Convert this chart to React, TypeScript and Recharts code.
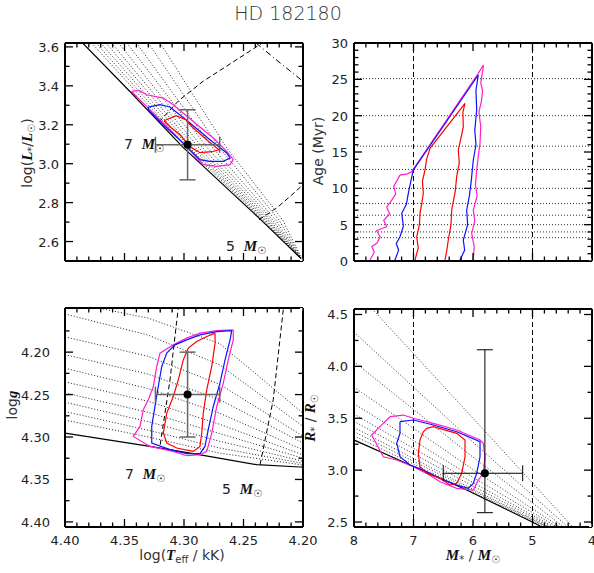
import React from 'react'
import { ComposedChart, Line, Scatter, XAxis, YAxis, ReferenceLine, ErrorBar } from 'recharts'

type Pt = [number, number]

// ---------- tick values ----------
const teffMajor = [4.4, 4.35, 4.3, 4.25, 4.2]
const teffMinor = [4.39, 4.38, 4.37, 4.36, 4.34, 4.33, 4.32, 4.31, 4.29, 4.28, 4.27, 4.26, 4.24, 4.23, 4.22, 4.21]
const lumMajor = [2.6, 2.8, 3.0, 3.2, 3.4, 3.6]
const lumMinor = [2.7, 2.9, 3.1, 3.3, 3.5]
const ageMajor = [0, 5, 10, 15, 20, 25, 30]
const ageMinor = [1, 2, 3, 4, 6, 7, 8, 9, 11, 12, 13, 14, 16, 17, 18, 19, 21, 22, 23, 24, 26, 27, 28, 29]
const massMajor = [8, 7, 6, 5, 4]
const massMinor = [7.8, 7.6, 7.4, 7.2, 6.8, 6.6, 6.4, 6.2, 5.8, 5.6, 5.4, 5.2, 4.8, 4.6, 4.4, 4.2]
const loggMajor = [4.2, 4.25, 4.3, 4.35, 4.4]
const loggMinor = [4.175, 4.225, 4.275, 4.325, 4.375]
const radMajor = [2.5, 3.0, 3.5, 4.0, 4.5]
const radMinor = [2.75, 3.25, 3.75, 4.25]

// isochrone ages (Myr) and track masses
const isoAges = [25.1, 20.0, 15.8, 12.6, 10.0, 7.9, 6.3, 5.0, 4.0, 3.2]
const trackMasses = [7, 5]

// ---------- HRD: log Teff vs log L ----------
const hrdZams: Pt[] = [[4.386, 3.625], [4.344, 3.362], [4.301, 3.085], [4.236, 2.715], [4.199, 2.497]]
const hrdIso: Pt[][] = [
  [[4.32, 3.62], [4.264, 3.08], [4.217, 2.71], [4.2, 2.5]],
  [[4.33, 3.62], [4.2699, 3.08], [4.2201, 2.71], [4.2, 2.5]],
  [[4.34, 3.62], [4.2756, 3.08], [4.223, 2.71], [4.2, 2.5]],
  [[4.348, 3.62], [4.2801, 3.08], [4.2254, 2.71], [4.2, 2.5]],
  [[4.355, 3.62], [4.2841, 3.08], [4.2274, 2.71], [4.2, 2.5]],
  [[4.3608, 3.62], [4.2874, 3.08], [4.2291, 2.71], [4.2, 2.5]],
  [[4.3655, 3.62], [4.2902, 3.08], [4.2305, 2.71], [4.2, 2.5]],
  [[4.37, 3.62], [4.2927, 3.08], [4.2318, 2.71], [4.2, 2.5]],
  [[4.374, 3.62], [4.295, 3.08], [4.233, 2.71], [4.2, 2.5]],
  [[4.3776, 3.62], [4.297, 3.08], [4.234, 2.71], [4.2, 2.5]],
]
const hrdTrack7: Pt[] = [[4.321, 3.214], [4.3048, 3.322], [4.2838, 3.424], [4.2642, 3.501], [4.2362, 3.612], [4.232, 3.63]]
const hrdTrack5: Pt[] = [[4.237, 2.712], [4.2218, 2.774], [4.211, 2.831], [4.1985, 2.9]]
const hrdDashDot: Pt[] = [[4.2395, 3.62], [4.2193, 3.518], [4.199, 3.418]]
const hrdSigma3: Pt[] = [
  [4.344, 3.371], [4.338, 3.376], [4.3313, 3.354], [4.3174, 3.337], [4.309, 3.303], [4.2922, 3.217],
  [4.2754, 3.132], [4.2641, 3.063], [4.2586, 3.021], [4.2613, 2.995], [4.2725, 2.986], [4.2838, 2.995],
  [4.2893, 3.029], [4.3006, 3.106], [4.3202, 3.226], [4.337, 3.328], [4.344, 3.371],
]
const hrdSigma2: Pt[] = [
  [4.33, 3.291], [4.3202, 3.303], [4.3118, 3.291], [4.295, 3.209], [4.2782, 3.123], [4.2641, 3.055],
  [4.2613, 3.029], [4.267, 3.012], [4.2782, 3.012], [4.2866, 3.021], [4.2978, 3.089], [4.3174, 3.2],
  [4.33, 3.277], [4.33, 3.291],
]
const hrdSigma1: Pt[] = [
  [4.3168, 3.2205], [4.3067, 3.2462], [4.2984, 3.2256], [4.2933, 3.1897], [4.279, 3.1128], [4.2706, 3.0718],
  [4.2765, 3.0615], [4.2866, 3.0564], [4.295, 3.0872], [4.3034, 3.1487], [4.3118, 3.1897], [4.3168, 3.2205],
]
const starHrd = { x: 4.297, y: 3.097, ex: 0.027, ey: 0.18 }

// ---------- mass vs age ----------
const ageSigma3: Pt[] = [
  [7.76, -0.3], [7.731, 0.14], [7.66, 1.2], [7.7, 2.0], [7.618, 2.44], [7.56, 3.3], [7.62, 4.2], [7.45, 4.72],
  [7.5, 5.6], [7.4, 6.5], [7.45, 7.4], [7.366, 8.39], [7.3, 9.2], [7.33, 10.3], [7.227, 11.83], [7.1, 12.0],
  [7.03, 12.29], [5.911, 25.83], [5.827, 26.97], [5.83, 26.5], [5.87, 24.5], [5.84, 23.5], [5.855, 22.15],
  [5.9, 20.5], [5.87, 18.5], [5.882, 16.2], [5.91, 14.5], [5.938, 12.52], [5.96, 10.5], [5.93, 9.0],
  [5.995, 7.02], [5.97, 5.5], [6.022, 3.81], [5.98, 2.0], [5.995, 0.14], [5.99, -0.3], [7.76, -0.3],
]
const ageSigma2: Pt[] = [
  [7.32, -0.3], [7.311, 0.14], [7.25, 1.5], [7.29, 2.4], [7.227, 3.34], [7.17, 4.8], [7.198, 6.56], [7.12, 7.8],
  [7.087, 9.32], [7.05, 10.8], [7.003, 12.52], [5.911, 25.6], [5.95, 23.5], [5.938, 20.78], [5.97, 18.0],
  [5.95, 16.0], [5.995, 13.9], [6.03, 11.0], [6.06, 9.0], [6.106, 7.02], [6.09, 5.0], [6.163, 2.89],
  [6.14, 1.5], [6.218, 0.14], [6.22, -0.3], [7.32, -0.3],
]
const ageSigma1: Pt[] = [
  [6.98, -0.3], [6.975, 0.14], [6.92, 1.8], [6.946, 3.34], [6.9, 5.0], [6.891, 6.56], [6.86, 8.0], [6.835, 9.32],
  [6.85, 11.0], [6.807, 12.52], [6.78, 14.0], [6.723, 15.5], [6.134, 21.7], [6.17, 20.5], [6.163, 18.48],
  [6.2, 17.0], [6.247, 15.27], [6.23, 13.5], [6.274, 11.6], [6.3, 9.5], [6.358, 7.02], [6.37, 5.0],
  [6.415, 2.89], [6.44, 1.5], [6.47, 0.14], [6.47, -0.3], [6.98, -0.3],
]

// ---------- Kiel: log Teff vs log g ----------
const kielZams: Pt[] = [[4.405, 4.294], [4.4, 4.2953], [4.3286, 4.3111], [4.2922, 4.3196], [4.2389, 4.3326], [4.2025, 4.3353], [4.195, 4.336]]
const kielIso: Pt[][] = [
  [[4.4, 4.14], [4.33, 4.16], [4.27, 4.19], [4.2, 4.272]],
  [[4.4, 4.155], [4.33, 4.18], [4.27, 4.215], [4.2, 4.2875]],
  [[4.4, 4.182], [4.33, 4.205], [4.27, 4.238], [4.2, 4.299]],
  [[4.4, 4.203], [4.33, 4.226], [4.27, 4.256], [4.2, 4.307]],
  [[4.4, 4.219], [4.33, 4.243], [4.27, 4.272], [4.2, 4.315]],
  [[4.4, 4.235], [4.33, 4.258], [4.27, 4.285], [4.2, 4.321]],
  [[4.4, 4.248], [4.33, 4.271], [4.27, 4.296], [4.2, 4.325]],
  [[4.4, 4.259], [4.33, 4.282], [4.27, 4.305], [4.2, 4.3285]],
  [[4.4, 4.27], [4.33, 4.292], [4.27, 4.313], [4.2, 4.331]],
  [[4.4, 4.28], [4.33, 4.3], [4.27, 4.319], [4.2, 4.333]],
]
const kielTrack7: Pt[] = [[4.32, 4.309], [4.3118, 4.233], [4.305, 4.15], [4.3045, 4.14]]
const kielTrack5: Pt[] = [[4.2361, 4.3326], [4.225, 4.256], [4.2166, 4.15], [4.216, 4.14]]
const kielSigma3: Pt[] = [
  [4.2586, 4.1738], [4.2725, 4.1746], [4.2866, 4.1776], [4.2977, 4.1835], [4.309, 4.1914], [4.3202, 4.2012],
  [4.3229, 4.2169], [4.3258, 4.2405], [4.33, 4.2561], [4.3342, 4.2679], [4.337, 4.2875], [4.3426, 4.2993],
  [4.3286, 4.3111], [4.309, 4.3169], [4.2977, 4.322], [4.2866, 4.3208], [4.2809, 4.3169], [4.2767, 4.2953],
  [4.2725, 4.264], [4.267, 4.2365], [4.2628, 4.2091], [4.2586, 4.1855], [4.2586, 4.1738],
]
const kielSigma2: Pt[] = [
  [4.2599, 4.1746], [4.2725, 4.1758], [4.2866, 4.1796], [4.2977, 4.1855], [4.3076, 4.1914], [4.3145, 4.2012],
  [4.3187, 4.2169], [4.3216, 4.2405], [4.3244, 4.264], [4.3271, 4.2875], [4.3271, 4.3071], [4.3118, 4.3149],
  [4.2977, 4.3196], [4.2866, 4.3196], [4.2824, 4.3111], [4.2796, 4.2914], [4.2754, 4.264], [4.2698, 4.2365],
  [4.2655, 4.2091], [4.2613, 4.1855], [4.2599, 4.1746],
]
const kielSigma1: Pt[] = [
  [4.2739, 4.1776], [4.2809, 4.1816], [4.2893, 4.1875], [4.2964, 4.1953], [4.3006, 4.2091], [4.3048, 4.2326],
  [4.309, 4.2522], [4.3145, 4.2718], [4.3174, 4.2953], [4.3145, 4.3071], [4.3061, 4.3129], [4.2922, 4.3169],
  [4.2866, 4.3111], [4.2851, 4.2953], [4.2838, 4.2718], [4.2809, 4.2444], [4.2767, 4.2169], [4.2739, 4.1894],
  [4.2739, 4.1776],
]
const starKiel = { x: 4.297, y: 4.25, ex: 0.027, ey: 0.05 }

// ---------- mass vs radius ----------
const mrZams: Pt[] = [[8.05, 3.303], [7.0, 3.035], [6.106, 2.808], [5.013, 2.503], [4.8, 2.44]]
const mrIso: Pt[][] = [
  [[7.8, 4.62], [5.714, 3.322], [4.3, 2.438]],
  [[8.0, 4.33], [6.0, 3.27], [4.4, 2.45]],
  [[8.0, 4.045], [6.0, 3.125], [4.47, 2.45]],
  [[8.0, 3.8], [6.0, 3.005], [4.53, 2.45]],
  [[8.0, 3.64], [6.0, 2.93], [4.58, 2.45]],
  [[8.0, 3.54], [6.0, 2.88], [4.63, 2.45]],
  [[8.0, 3.47], [6.0, 2.845], [4.67, 2.45]],
  [[8.0, 3.41], [6.0, 2.815], [4.71, 2.45]],
  [[8.0, 3.37], [6.0, 2.8], [4.74, 2.45]],
  [[8.0, 3.33], [6.0, 2.785], [4.77, 2.45]],
]
const mrSigma3: Pt[] = [
  [7.395, 3.515], [7.171, 3.531], [7.003, 3.5], [6.667, 3.451], [6.274, 3.387], [5.882, 3.29], [5.827, 3.259],
  [5.798, 3.129], [5.827, 2.969], [5.911, 2.905], [5.995, 2.808], [6.274, 2.825], [6.555, 2.888], [6.778, 2.969],
  [7.003, 3.033], [7.282, 3.098], [7.508, 3.129], [7.703, 3.339], [7.563, 3.419], [7.395, 3.515],
]
const mrSigma2: Pt[] = [
  [7.227, 3.467], [7.003, 3.483], [6.667, 3.435], [6.274, 3.37], [5.882, 3.274], [5.882, 3.129], [5.938, 2.969],
  [5.995, 2.873], [6.079, 2.825], [6.274, 2.857], [6.555, 2.921], [6.835, 3.001], [7.059, 3.049], [7.227, 3.129],
  [7.282, 3.259], [7.227, 3.355], [7.227, 3.467],
]
const mrSigma1: Pt[] = [
  [6.778, 3.403], [6.667, 3.419], [6.274, 3.355], [6.134, 3.29], [6.134, 3.129], [6.19, 2.969], [6.274, 2.873],
  [6.387, 2.857], [6.555, 2.921], [6.778, 2.969], [6.891, 3.033], [6.919, 3.162], [6.891, 3.29], [6.835, 3.37],
  [6.778, 3.403],
]
const starMr = { x: 5.8, y: 2.97, ex: [0.635, 0.7], ey: [0.38, 1.19] }

// ---------- styling ----------
const SANS = "'DejaVu Sans', 'Liberation Sans', sans-serif"
const SERIF = "'Liberation Serif', 'DejaVu Serif', serif"
const MAGENTA = '#ff1dce'
const BLUE = '#1010ff'
const RED = '#ff0000'
const DOT = '1 2'
const DASH = '5 3'

const rows = (pts: Pt[]) => pts.map(([x, y]) => ({ x, y }))
const f0 = (v: number) => String(v)
const f1 = (v: number) => v.toFixed(1)
const f2 = (v: number) => v.toFixed(2)
const isIn = (list: number[], v: number) => list.some((m) => Math.abs(m - v) < 1e-6)

// labels only for the major values
function label(side: 'bottom' | 'left', major: number[], fmt?: (v: number) => string, gap = 6) {
  return (props: any) => {
    const x = Number(props.x)
    const y = Number(props.y)
    const v = props.payload.value
    if (!fmt || !isIn(major, v)) return <g />
    const txt = { fontFamily: SANS, fontSize: 13, fill: '#222' }
    return side === 'bottom' ? (
      <text x={x} y={y + 18} textAnchor="middle" {...txt}>{fmt(v)}</text>
    ) : (
      <text x={x - gap} y={y + 5} textAnchor="end" {...txt}>{fmt(v)}</text>
    )
  }
}

// inward tick mark drawn at a point sitting on the frame; (dx, dy) is the inward direction
function tickShape(dx: number, dy: number) {
  return (props: any) => {
    const len = props.payload && props.payload.m ? 8 : 4.5
    const { cx, cy } = props
    return <path d={`M${cx},${cy}L${cx + dx * len},${cy + dy * len}`} stroke="#000" strokeWidth={1.3} fill="none" />
  }
}

function curve(key: string, pts: Pt[], stroke: string, dash?: string, width = 1) {
  return (
    <Line
      key={key}
      data={rows(pts)}
      dataKey="y"
      xAxisId="b"
      yAxisId="l"
      type="linear"
      stroke={stroke}
      strokeWidth={width}
      strokeDasharray={dash}
      dot={false}
      activeDot={false}
      isAnimationActive={false}
    />
  )
}

const starDot = (p: any) => <circle cx={p.cx} cy={p.cy} r={4} fill="#000" />

function star(data: any, color: string, width: number) {
  return (
    <Scatter data={[data]} dataKey="y" xAxisId="b" yAxisId="l" shape={starDot} isAnimationActive={false}>
      <ErrorBar dataKey="ex" direction="x" width={8} stroke={color} strokeWidth={width} isAnimationActive={false} />
      <ErrorBar dataKey="ey" direction="y" width={8} stroke={color} strokeWidth={width} isAnimationActive={false} />
    </Scatter>
  )
}

interface PanelProps {
  left: number
  top: number
  width: number
  height: number
  mTop: number
  mRight: number
  yWidth: number
  xHeight: number
  xDomain: [number, number]
  yDomain: [number, number]
  yReversed?: boolean
  xTicks: number[]
  xMajor: number[]
  xFmt?: (v: number) => string
  yTicks: number[]
  yMajor: number[]
  yFmt: (v: number) => string
  yGap?: number
  children: React.ReactNode
}

function Panel(p: PanelProps) {
  const common = {
    type: 'number' as const,
    allowDataOverflow: true,
    interval: 0 as const,
    tickSize: 0,
    tickMargin: 0,
    tickLine: false,
    axisLine: { stroke: '#000', strokeWidth: 2 },
  }
  const blank = () => <g />
  // frame edges in data units (x axes are reversed everywhere)
  const xLeft = p.xDomain[1]
  const xRight = p.xDomain[0]
  const yBottom = p.yReversed ? p.yDomain[1] : p.yDomain[0]
  const yTop = p.yReversed ? p.yDomain[0] : p.yDomain[1]
  const xt = (y: number) => p.xTicks.map((v) => ({ x: v, y, m: isIn(p.xMajor, v) }))
  const yt = (x: number) => p.yTicks.map((v) => ({ x, y: v, m: isIn(p.yMajor, v) }))
  const tickSeries: [string, any[], (props: any) => React.ReactElement][] = [
    ['kb', xt(yBottom), tickShape(0, -1)],
    ['kt', xt(yTop), tickShape(0, 1)],
    ['kl', yt(xLeft), tickShape(1, 0)],
    ['kr', yt(xRight), tickShape(-1, 0)],
  ]
  // the top and right axes only carry the frame; an empty line keeps them registered
  const anchor = [{ x: p.xDomain[0], y: p.yDomain[0] }]
  return (
    <div style={{ position: 'absolute', left: p.left, top: p.top }}>
      <ComposedChart width={p.width} height={p.height} margin={{ top: p.mTop - 1, right: p.mRight - 1, bottom: 0, left: 0 }}>
        <XAxis xAxisId="b" dataKey="x" orientation="bottom" height={p.xHeight} domain={p.xDomain} reversed ticks={p.xTicks} tick={label('bottom', p.xMajor, p.xFmt)} {...common} />
        <XAxis xAxisId="t" dataKey="x" orientation="top" height={1} domain={p.xDomain} reversed ticks={p.xTicks} tick={blank} {...common} />
        <YAxis yAxisId="l" dataKey="y" orientation="left" width={p.yWidth} domain={p.yDomain} reversed={p.yReversed} ticks={p.yTicks} tick={label('left', p.yMajor, p.yFmt, p.yGap)} {...common} />
        <YAxis yAxisId="r" dataKey="y" orientation="right" width={1} domain={p.yDomain} reversed={p.yReversed} ticks={p.yTicks} tick={blank} {...common} />
        <Line data={anchor} dataKey="y" xAxisId="t" yAxisId="r" stroke="none" dot={false} activeDot={false} isAnimationActive={false} />
        {p.children}
        {tickSeries.map(([key, data, shape]) => (
          <Scatter key={key} data={data} dataKey="y" xAxisId="b" yAxisId="l" shape={shape} isAnimationActive={false} />
        ))}
      </ComposedChart>
    </div>
  )
}

const textBase: React.CSSProperties = { position: 'absolute', whiteSpace: 'nowrap', fontFamily: SANS, fontSize: 14, color: '#333', lineHeight: 1 }

function VText({ cx, cy, children }: { cx: number; cy: number; children: React.ReactNode }) {
  return <div style={{ ...textBase, left: cx, top: cy, transform: 'translate(-50%, -50%) rotate(-90deg)' }}>{children}</div>
}
function HText({ cx, cy, children }: { cx: number; cy: number; children: React.ReactNode }) {
  return <div style={{ ...textBase, left: cx, top: cy, transform: 'translate(-50%, -50%)' }}>{children}</div>
}
const BI = ({ children }: { children: React.ReactNode }) => (
  <span style={{ fontFamily: SERIF, fontStyle: 'italic', fontWeight: 'bold', fontSize: 15, color: '#111' }}>{children}</span>
)
const Sub = ({ children }: { children: React.ReactNode }) => (
  <sub style={{ fontSize: 10, verticalAlign: -3 }}>{children}</sub>
)
const Sun = () => <Sub>{'\u2609'}</Sub>
const MassLabel = ({ m, x, y }: { m: number; x: number; y: number }) => (
  <div style={{ ...textBase, left: x, top: y, transform: 'translateY(-50%)', color: '#222' }}>
    {m}&nbsp; <BI>M</BI>
    <Sun />
  </div>
)

export default function App() {
  const allTeff = [...teffMajor, ...teffMinor]
  const allMass = [...massMajor, ...massMinor]
  return (
    <div style={{ position: 'absolute', left: 0, top: 0, width: 594, height: 573, background: '#fff', overflow: 'hidden' }}>
      {/* HR diagram */}
      <Panel left={0} top={0} width={310} height={290} mTop={43} mRight={7} yWidth={65} xHeight={29}
        xDomain={[4.2, 4.4]} yDomain={[2.5, 3.62]} xTicks={allTeff} xMajor={teffMajor}
        yTicks={[...lumMajor, ...lumMinor]} yMajor={lumMajor} yFmt={f1}>
        {hrdIso.map((iso, i) => curve('hi' + isoAges[i], iso, '#222', DOT))}
        {curve('hz', hrdZams, '#000', undefined, 1.2)}
        {curve('ht' + trackMasses[0], hrdTrack7, '#000', DASH)}
        {curve('ht' + trackMasses[1], hrdTrack5, '#000', DASH)}
        {curve('hdd', hrdDashDot, '#000', '6 3 1 3')}
        {curve('hs3', hrdSigma3, MAGENTA, undefined, 1.2)}
        {curve('hs2', hrdSigma2, BLUE, undefined, 1.2)}
        {curve('hs1', hrdSigma1, RED, undefined, 1.2)}
        {star(starHrd, '#666', 1.5)}
      </Panel>

      {/* age vs mass */}
      <Panel left={290} top={0} width={304} height={290} mTop={43} mRight={2} yWidth={64} xHeight={29}
        xDomain={[4, 8]} yDomain={[0, 30]} xTicks={allMass} xMajor={massMajor}
        yTicks={[...ageMajor, ...ageMinor]} yMajor={ageMajor} yFmt={f0}>
        {isoAges.map((a) => (
          <ReferenceLine key={'ra' + a} y={a} xAxisId="b" yAxisId="l" stroke="#333" strokeDasharray={DOT} />
        ))}
        {trackMasses.map((m) => (
          <ReferenceLine key={'rm' + m} x={m} xAxisId="b" yAxisId="l" stroke="#000" strokeDasharray={DASH} />
        ))}
        {curve('as3', ageSigma3, MAGENTA, undefined, 1.2)}
        {curve('as2', ageSigma2, BLUE, undefined, 1.2)}
        {curve('as1', ageSigma1, RED, undefined, 1.2)}
      </Panel>

      {/* Kiel diagram */}
      <Panel left={0} top={290} width={330} height={283} mTop={18} mRight={27} yWidth={65} xHeight={46}
        xDomain={[4.2, 4.4]} yDomain={[4.148, 4.406]} yReversed xTicks={allTeff} xMajor={teffMajor} xFmt={f2}
        yTicks={[...loggMajor, ...loggMinor]} yMajor={loggMajor} yFmt={f2} yGap={15}>
        {kielIso.map((iso, i) => curve('ki' + isoAges[i], iso, '#222', DOT))}
        {curve('kz', kielZams, '#000', undefined, 1.2)}
        {curve('kt' + trackMasses[0], kielTrack7, '#000', DASH)}
        {curve('kt' + trackMasses[1], kielTrack5, '#000', DASH)}
        {curve('ks3', kielSigma3, MAGENTA, undefined, 1.2)}
        {curve('ks2', kielSigma2, BLUE, undefined, 1.2)}
        {curve('ks1', kielSigma1, RED, undefined, 1.2)}
        {star(starKiel, '#666', 1.5)}
      </Panel>

      {/* mass vs radius */}
      <Panel left={290} top={290} width={304} height={283} mTop={19} mRight={2} yWidth={64} xHeight={46}
        xDomain={[4, 8]} yDomain={[2.452, 4.553]} xTicks={allMass} xMajor={massMajor} xFmt={f0}
        yTicks={[...radMajor, ...radMinor]} yMajor={radMajor} yFmt={f1}>
        {mrIso.map((iso, i) => curve('mi' + isoAges[i], iso, '#333', DOT))}
        {trackMasses.map((m) => (
          <ReferenceLine key={'rr' + m} x={m} xAxisId="b" yAxisId="l" stroke="#000" strokeDasharray={DASH} />
        ))}
        {curve('mz', mrZams, '#000', undefined, 1.2)}
        {curve('ms3', mrSigma3, MAGENTA, undefined, 1.2)}
        {curve('ms2', mrSigma2, BLUE, undefined, 1.2)}
        {curve('ms1', mrSigma1, RED, undefined, 1.2)}
        {star(starMr, '#000', 1)}
      </Panel>

      {/* texts */}
      <div style={{ ...textBase, left: 288, top: 13, transform: 'translate(-50%, -50%)', fontSize: 19, fontWeight: 200 }}>
        HD 182180
      </div>
      <VText cx={28} cy={153}>
        log(<BI>L</BI><Sub>*</Sub>/<BI>L</BI><Sun />)
      </VText>
      <VText cx={318} cy={151}>Age (Myr)</VText>
      <VText cx={12} cy={405}>
        log<BI>g</BI>
      </VText>
      <VText cx={311} cy={418}>
        <BI>R</BI><Sub>*</Sub> / <BI>R</BI><Sun />
      </VText>
      <HText cx={182} cy={556}>
        log(<BI>T</BI><Sub>eff</Sub> / kK)
      </HText>
      <HText cx={473} cy={556}>
        <BI>M</BI><Sub>*</Sub> / <BI>M</BI><Sun />
      </HText>
      <MassLabel m={7} x={124} y={145} />
      <MassLabel m={5} x={226} y={247} />
      <MassLabel m={7} x={125} y={475} />
      <MassLabel m={5} x={222} y={490} />
    </div>
  )
}
